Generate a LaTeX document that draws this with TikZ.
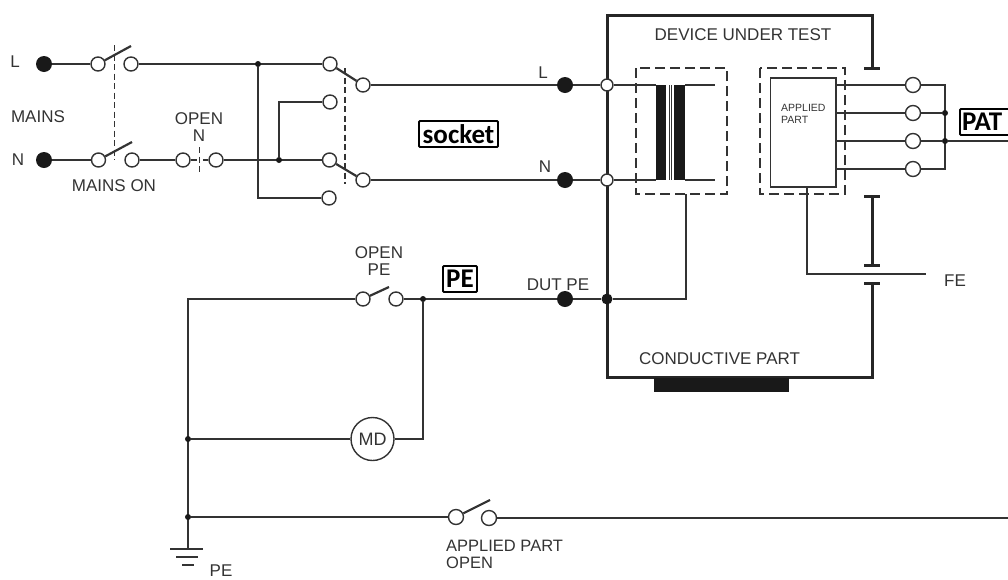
\documentclass[tikz,border=0pt]{standalone}
\usepackage{fontspec}
\setmainfont{Liberation Sans}
\newfontfamily\boxfont{Carlito}
\usetikzlibrary{backgrounds}
\definecolor{ink}{HTML}{333333}
\tikzset{
  x=1pt,y=-1pt,
  wire/.style={draw=ink,line width=1.6pt},
  thinwire/.style={draw=ink,line width=1.2pt},
  thick wire/.style={draw=black!85,line width=3pt},
  blade/.style={draw=ink,line width=2.2pt},
  gang/.style={draw=ink,line width=1.4pt,dash pattern=on 6pt off 3.5pt},
  frame/.style={draw=ink,line width=1.4pt,dash pattern=on 10pt off 5pt},
  term/.style={circle,draw=ink,line width=1.4pt,fill=white,minimum size=14pt,inner sep=0pt},
  bigdot/.style={circle,fill=black!90,minimum size=16pt,inner sep=0pt},
  middot/.style={circle,fill=black!90,minimum size=11pt,inner sep=0pt},
  dot/.style={circle,fill=black!90,minimum size=6pt,inner sep=0pt},
  lab/.style={inner sep=0pt,text=ink,font=\fontsize{17}{17}\selectfont,align=center},
  smalllab/.style={inner sep=0pt,text=ink,font=\fontsize{10.5}{12}\selectfont,align=left},
  tag/.style={draw=black,line width=1.8pt,rounded corners=1pt,inner sep=0pt,text=black,font=\boxfont\bfseries\fontsize{27}{27}\selectfont,anchor=center},
  solidbar/.style={fill=black!90,draw=none},
}
\begin{document}
\begin{tikzpicture}
\useasboundingbox (0,0) rectangle (1008,579);
\clip (0,0) rectangle (1008,579);
% text
\node[lab] (tL) at (15,62) {L};
\node[lab] (tMains) at (38,117) {MAINS};
\node[lab] (tN) at (18,160) {N};
\node[lab] (tOn) at (114,186) {MAINS ON};
\node[lab] (tOpenN) at (199,127) {OPEN\\N};
\node[lab] (tLo) at (543,73) {L};
\node[lab] (tNo) at (545,167) {N};
\node[lab] (tDutPE) at (558,285) {DUT PE};
\node[lab] (tOpenPE) at (379,261) {OPEN\\PE};
\node[lab] (tDUT) at (743,35) {DEVICE UNDER TEST};
\node[lab] (tCond) at (719.5,359) {CONDUCTIVE PART};
\node[lab] (tFE) at (955,281) {FE};
\node[lab,font=\fontsize{16.5}{17}\selectfont,align=left,anchor=west] (tAP) at (446,554) {APPLIED PART\\OPEN};
\node[lab] (tPE) at (221,571) {PE};
\node[smalllab,anchor=west] (tApplied) at (781,114) {APPLIED\\PART};
\node[tag,minimum width=79pt,minimum height=26pt] (socket) at (458.5,134) {socket};
\node[tag,minimum width=34pt,minimum height=26pt] (pe) at (460,279) {PE};
\node[tag,minimum width=54pt,minimum height=26pt,text width=50pt,align=left] (pat) at (987,122) {PAT};
% terminals
\node[bigdot] (Lin) at (44,64) {};
\node[bigdot] (Nin) at (44,160) {};
\node[term] (s1a) at (98,64) {};
\node[term] (s1b) at (131,64) {};
\node[term] (s2a) at (98.5,160) {};
\node[term] (s2b) at (132,160) {};
\node[term] (o1a) at (183,160) {};
\node[term] (o1b) at (216,160) {};
\node[term] (c1) at (330,64) {};
\node[term] (c2) at (330,102) {};
\node[term] (c3) at (329.5,160) {};
\node[term] (c4) at (329,198) {};
\node[term] (d1) at (363,85) {};
\node[term] (d2) at (363,180) {};
\node[bigdot] (Lout) at (565,85) {};
\node[bigdot] (Nout) at (565,180) {};
\node[term,minimum size=12pt] (h1) at (607,85) {};
\node[term,minimum size=12pt] (h2) at (607,180) {};
\node[middot] (j5) at (607,299) {};
\node[bigdot] (Dut) at (565,299) {};
\node[dot] (j1) at (258,64) {};
\node[dot] (j2) at (279,160) {};
\node[dot] (j3) at (423,299) {};
\node[dot] (j4) at (188,439) {};
\node[dot] (j6) at (188,517) {};
\node[term] (pe1) at (363,299) {};
\node[term] (pe2) at (396,299) {};
\node[term,minimum size=43pt] (md) at (372.5,439) {};
\node[inner sep=0pt,text=ink,font=\fontsize{18}{18}\selectfont] (mdtxt) at (372.5,439) {MD};
\node[term,minimum size=15pt] (a1) at (456,517) {};
\node[term,minimum size=15pt] (a2) at (489,518) {};
\node[term,minimum size=15pt] (p1) at (913,85) {};
\node[term,minimum size=15pt] (p2) at (913,113) {};
\node[term,minimum size=15pt] (p3) at (913,141) {};
\node[term,minimum size=15pt] (p4) at (913,169) {};
\node[dot] (b2) at (945,113) {};
\node[dot] (b3) at (945,141) {};
% free points
\coordinate (b1) at (945,85);
\coordinate (b4) at (945,169);
\coordinate (patEnd) at (1008,141);
\coordinate (apEnd) at (1008,518);
\coordinate (gnd) at (188,549);
\coordinate (peTop) at (188,299);
\coordinate (c2k) at (279,102);
\coordinate (c4k) at (258,198);
\coordinate (tr1) at (715,85);
\coordinate (tr2) at (715,180);
\coordinate (tr3) at (656,85);
\coordinate (tr4) at (656,180);
\coordinate (tr5) at (685,85);
\coordinate (tr6) at (685,180);
\coordinate (k686) at (686,299);
\coordinate (trb) at (686,194);
\coordinate (ap1) at (836,85);
\coordinate (ap2) at (836,113);
\coordinate (ap3) at (836,141);
\coordinate (ap4) at (836,169);
\coordinate (apb) at (807,187);
\coordinate (fe1) at (807,274);
\coordinate (fe2) at (926,274);
\coordinate (mdk) at (423,439);
\begin{scope}[on background layer]
% wiring
\draw[wire] (Lin) -- (s1a);
\draw[wire] (Nin) -- (s2a);
\draw[wire] (s1b) -- (c1);
\draw[wire] (s2b) -- (o1a);
\draw[wire] (o1b) -- (c3);
\draw[wire] (j1) -- (c4k) -- (c4);
\draw[wire] (j2) -- (c2k) -- (c2);
\draw[wire] (d1) -- (Lout) -- (h1) -- (tr3);
\draw[wire] (d2) -- (Nout) -- (h2) -- (tr4);
\draw[wire] (tr5) -- (tr1);
\draw[wire] (tr6) -- (tr2);
\draw[thinwire] (trb) -- (k686) -- (j5);
\draw[wire] (j5) -- (Dut) -- (pe2);
\draw[wire] (pe1) -| (peTop) -- (gnd);
\draw[wire] (j4) -- (md);
\draw[wire] (md) -- (mdk) -- (j3);
\draw[wire] (j6) -- (a1);
\draw[wire] (a2) -- (apEnd);
\draw[wire] (ap1) -- (p1);
\draw[wire] (ap2) -- (p2);
\draw[wire] (ap3) -- (p3);
\draw[wire] (ap4) -- (p4);
\draw[wire] (p1) -- (b1) -- (b4) -- (p4);
\draw[wire] (p2) -- (b2);
\draw[wire] (p3) -- (b3) -- (patEnd);
\draw[thinwire] (apb) -- (fe1) -- (fe2);
% enclosure
\draw[thick wire] (607,299) -- (607,15) -- (872,15) -- (872,68);
\draw[thick wire] (864,68) -- (880,68);
\draw[thick wire] (872,196) -- (872,265);
\draw[thick wire] (864,196) -- (880,196);
\draw[thick wire] (864,265) -- (880,265);
\draw[thick wire] (864,283) -- (880,283);
\draw[thick wire] (872,283) -- (872,377) -- (607,377) -- (607,299);
\end{scope}
% switch blades
\draw[blade] (s1a) -- (131,46);
\draw[blade] (s2a) -- (132,142);
\draw[blade] (c1) -- (d1);
\draw[blade] (c3) -- (d2);
\draw[blade] (pe1) -- (389,287);
\draw[blade] (a1) -- (490,500);
\draw[blade] (o1a) -- (197,160);
\draw[blade] (203,160) -- (o1b);
% ganged
\draw[gang] (114.5,45) -- (114.5,160);
\draw[gang] (345,68) -- (345,184);
\draw[gang] (199.5,147) -- (199.5,172);
% frames
\draw[frame] (636,68) rectangle (727,194);
\draw[frame] (760,68) rectangle (845,194);
\draw[draw=ink,line width=1.6pt] (770.5,78) rectangle (836,187);
% transformer core
\fill[solidbar] (656,85) rectangle (666,180);
\fill[solidbar] (674,85) rectangle (685,180);
\draw[ink,line width=1pt] (669,85) -- (669,180);
\draw[ink,line width=1pt] (671.5,85) -- (671.5,180);
% conductive part
\fill[solidbar] (654,378) rectangle (789,392);
% earth
\draw[wire,line width=2pt] (170,549) -- (203,549);
\draw[wire,line width=2pt] (176,557) -- (198,557);
\draw[wire,line width=2pt] (182,565) -- (194,565);
\end{tikzpicture}
\end{document}
